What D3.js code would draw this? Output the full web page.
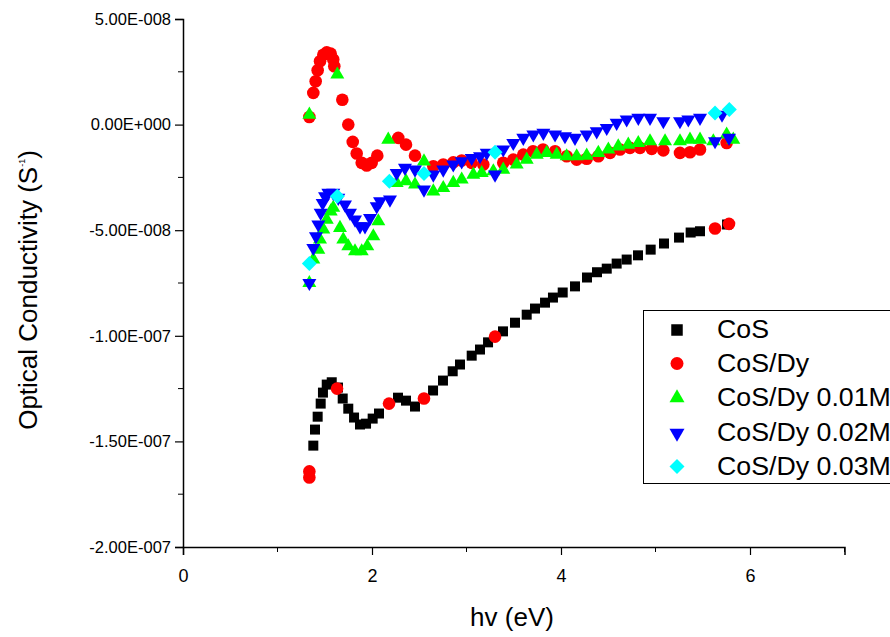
<!DOCTYPE html>
<html>
<head>
<meta charset="utf-8">
<script src="https://cdn.jsdelivr.net/npm/d3@7"></script>
<style>
  body { margin: 0; background: #fff; }
  svg { display: block; font-family: Arial, "Liberation Sans", sans-serif; }
</style>
</head>
<body>
<svg id="chart" width="890" height="637"></svg>
<script>
// y values are in units of 1e-8 S^-1
const cos_x = [1.379, 1.397, 1.425, 1.457, 1.481, 1.521, 1.574, 1.64, 1.690, 1.749, 1.810, 1.873, 1.937, 2.007, 2.074,
    2.275, 2.360, 2.455, 2.646, 2.751, 2.854, 2.931, 3.055, 3.143, 3.228, 3.386, 3.513, 3.637, 3.725, 3.831, 3.915,
    4.018, 4.148, 4.275, 4.381, 4.484, 4.589, 4.695, 4.815, 4.949, 5.090, 5.249, 5.372, 5.471, 5.757];
const cos_y = [-15.20, -14.44, -13.83, -13.21, -12.69, -12.31, -12.20, -12.45, -12.97, -13.45, -13.87, -14.20, -14.16, -13.92, -13.68,
    -12.93, -13.07, -13.35, -12.59, -12.12, -11.68, -11.36, -10.94, -10.65, -10.31, -9.79, -9.38, -9.00, -8.71, -8.43, -8.19,
    -7.95, -7.66, -7.24, -6.99, -6.82, -6.58, -6.39, -6.19, -5.92, -5.63, -5.35, -5.11, -5.05, -4.73];

const dy_x = [1.337, 1.379, 1.404, 1.425, 1.450, 1.485, 1.521, 1.563, 1.590, 1.601, 1.686, 1.749, 1.796, 1.838, 1.891,
    1.944, 1.997, 2.056, 2.278, 2.360, 2.455, 2.649, 2.754, 2.860, 2.949, 3.055, 3.178, 3.389, 3.495, 3.601, 3.704,
    3.810, 3.937, 4.060, 4.166, 4.272, 4.395, 4.519, 4.624, 4.730, 4.836, 4.960, 5.083, 5.259, 5.365, 5.471, 5.753,
    1.337, 1.337, 1.630, 2.180, 2.550, 3.302, 5.630, 5.778];
const dy_y = [0.36, 1.50, 2.05, 2.57, 3.00, 3.31, 3.42, 3.36, 3.08, 2.76, 1.18, 0.00, -0.82, -1.37, -1.81,
    -1.94, -1.81, -1.47, -0.63, -0.95, -1.47, -1.97, -1.89, -1.79, -1.70, -1.81, -1.89, -1.81, -1.66, -1.42, -1.26,
    -1.18, -1.26, -1.50, -1.66, -1.62, -1.50, -1.34, -1.18, -1.10, -1.10, -1.15, -1.22, -1.34, -1.31, -1.18, -0.87,
    -16.42, -16.71, -12.50, -13.21, -12.97, -10.04, -4.92, -4.70];

const m01_x = [1.337, 1.379, 1.432, 1.450, 1.485, 1.521, 1.563, 1.590, 1.661, 1.696, 1.749, 1.820, 1.891, 1.950, 2.014,
    2.067, 2.261, 2.360, 2.455, 2.649, 2.754, 2.860, 2.949, 3.072, 3.161, 3.284, 3.389, 3.531, 3.637, 3.743, 3.849,
    3.954, 4.060, 4.166, 4.272, 4.395, 4.501, 4.606, 4.712, 4.818, 4.942, 5.101, 5.259, 5.365, 5.471, 5.823,
    1.337, 1.633, 2.172, 2.550, 5.612, 5.753];
const m01_y = [-7.50, -6.39, -5.92, -5.44, -4.97, -4.50, -4.11, -3.94, -4.89, -5.44, -5.76, -6.00, -6.00, -5.76, -5.29,
    -4.58, -2.76, -2.68, -2.84, -3.16, -3.00, -2.76, -2.60, -2.37, -2.29, -2.21, -2.13, -1.89, -1.66, -1.42, -1.34,
    -1.42, -1.50, -1.50, -1.47, -1.34, -1.18, -1.03, -0.95, -0.87, -0.79, -0.79, -0.79, -0.71, -0.71, -0.71,
    0.47, 2.37, -0.71, -1.74, -0.79, -0.47];

const m02_x = [1.337, 1.379, 1.407, 1.432, 1.457, 1.478, 1.503, 1.538, 1.590, 1.643, 1.714, 1.767, 1.820, 1.873, 1.926,
    1.979, 2.050, 2.085, 2.190, 2.261, 2.349, 2.455, 2.550, 2.649, 2.754, 2.860, 2.949, 3.055, 3.143, 3.214, 3.302,
    3.389, 3.495, 3.601, 3.707, 3.813, 3.937, 4.042, 4.148, 4.272, 4.378, 4.484, 4.589, 4.695, 4.818, 4.942, 5.083,
    5.259, 5.347, 5.471, 5.630, 5.704, 5.778];
const m02_y = [-7.50, -5.84, -5.29, -4.73, -4.18, -3.71, -3.39, -3.23, -3.23, -3.47, -3.79, -4.18, -4.50, -4.82, -4.82,
    -4.42, -3.87, -3.63, -3.55, -2.29, -2.05, -2.13, -3.08, -2.37, -2.13, -1.89, -1.74, -1.58, -1.50, -1.34, -2.37,
    -1.18, -0.87, -0.63, -0.47, -0.39, -0.47, -0.55, -0.63, -0.47, -0.32, -0.16, 0.08, 0.24, 0.32, 0.32, 0.16,
    0.16, 0.24, 0.32, -0.79, 0.47, -0.63];

const m03_x = [1.337, 1.633, 2.184, 2.550, 3.302, 5.630, 5.781];
const m03_y = [-6.58, -3.39, -2.68, -2.32, -1.31, 0.55, 0.71];

const series_names = ["CoS", "CoS/Dy", "CoS/Dy 0.01M", "CoS/Dy 0.02M", "CoS/Dy 0.03M"];
const series_colors = ["#000000", "#ff0000", "#00ff00", "#0000ff", "#00ffff"];
const x_ticks = [0, 2, 4, 6];
const y_ticks = [-20, -15, -10, -5, 0, 5];

const series = [
    { x: cos_x, y: cos_y, shape: "square" },
    { x: dy_x, y: dy_y, shape: "circle" },
    { x: m01_x, y: m01_y, shape: "up" },
    { x: m02_x, y: m02_y, shape: "down" },
    { x: m03_x, y: m03_y, shape: "diamond" }
];

const svg = d3.select("#chart");
const x = d3.scaleLinear().domain([0, 7]).range([183, 844.5]);
const y = d3.scaleLinear().domain([-20, 5]).range([547, 19]);

function fmtE(v) {
    const val = v * 1e-8;
    if (val === 0) return "0.00E+000";
    const e = Math.floor(Math.log10(Math.abs(val)) + 1e-9);
    const m = val / Math.pow(10, e);
    return m.toFixed(2) + "E" + (e < 0 ? "-" : "+") + String(Math.abs(e)).padStart(3, "0");
}

function symbolPath(shape, s) {
    if (shape === "square") return d3.symbol(d3.symbolSquare, s * s)();
    if (shape === "circle") return d3.symbol(d3.symbolCircle, Math.PI * (s / 2) * (s / 2))();
    if (shape === "up" || shape === "down") return d3.symbol(d3.symbolTriangle, Math.sqrt(3) / 4 * s * s)();
    return d3.symbol(d3.symbolSquare, s * s / 2)();
}
function symbolRotate(shape) {
    if (shape === "down") return 180;
    if (shape === "diamond") return 45;
    return 0;
}
const plotSize = { square: 10, circle: 12.6, up: 14, down: 14, diamond: 15 };
const legendSize = { square: 11.5, circle: 13, up: 15, down: 15, diamond: 15 };

// y axis
const yAxis = svg.append("g").attr("transform", "translate(183,0)");
yAxis.call(d3.axisLeft(y).tickValues(y_ticks).tickFormat(fmtE).tickSize(8).tickPadding(4));
yAxis.selectAll(".tick text").attr("font-size", 16.5).attr("font-family", "Arial, 'Liberation Sans', sans-serif").attr("fill", "#000");
yAxis.append("g").selectAll("line").data(d3.range(-17.5, 5, 5)).enter().append("line")
    .attr("x1", 0).attr("x2", -5).attr("y1", d => y(d)).attr("y2", d => y(d)).attr("stroke", "#000");

// x axis
const xAxis = svg.append("g").attr("transform", "translate(0,547)");
xAxis.call(d3.axisBottom(x).tickValues(x_ticks).tickFormat(d3.format("d")).tickSize(8).tickPadding(14));
xAxis.selectAll(".tick text").attr("font-size", 18).attr("font-family", "Arial, 'Liberation Sans', sans-serif").attr("fill", "#000");
xAxis.append("g").selectAll("line").data([1, 3, 5, 7]).enter().append("line")
    .attr("x1", d => x(d)).attr("x2", d => x(d)).attr("y1", 0).attr("y2", 5).attr("stroke", "#000");

svg.selectAll(".domain").attr("stroke-width", 1.5);
svg.selectAll(".tick line").attr("stroke-width", 1.2);

// axis titles
svg.append("text").attr("x", 512).attr("y", 626).attr("text-anchor", "middle")
    .attr("font-size", 26).text("hv (eV)");
const ylab = svg.append("text").attr("transform", "translate(37,290) rotate(-90)")
    .attr("text-anchor", "middle").attr("font-size", 26);
ylab.append("tspan").text("Optical Conductivity (S");
ylab.append("tspan").attr("font-size", 9).attr("dy", -12).text("-1");
ylab.append("tspan").attr("dy", 12).text(")");

// points
series.forEach((s, i) => {
    svg.append("g").selectAll("path").data(s.x.map((v, j) => [v, s.y[j]])).enter().append("path")
        .attr("d", symbolPath(s.shape, plotSize[s.shape]))
        .attr("transform", d => "translate(" + x(d[0]) + "," + y(d[1]) + ") rotate(" + symbolRotate(s.shape) + ")")
        .attr("fill", series_colors[i]);
});

// legend
const legend = svg.append("g");
legend.append("rect").attr("x", 643.5).attr("y", 310.5).attr("width", 260).attr("height", 173)
    .attr("fill", "#fff").attr("stroke", "#000").attr("stroke-width", 1);
const rowY = [330, 363.5, 398, 433, 466.5];
series.forEach((s, i) => {
    legend.append("path").attr("d", symbolPath(s.shape, legendSize[s.shape]))
        .attr("transform", "translate(677," + rowY[i] + ") rotate(" + symbolRotate(s.shape) + ")")
        .attr("fill", series_colors[i]);
    legend.append("text").attr("transform", "translate(717," + (rowY[i] + 8) + ") scale(1.07,1)")
        .attr("font-size", 25).text(series_names[i]);
});
</script>
</body>
</html>
